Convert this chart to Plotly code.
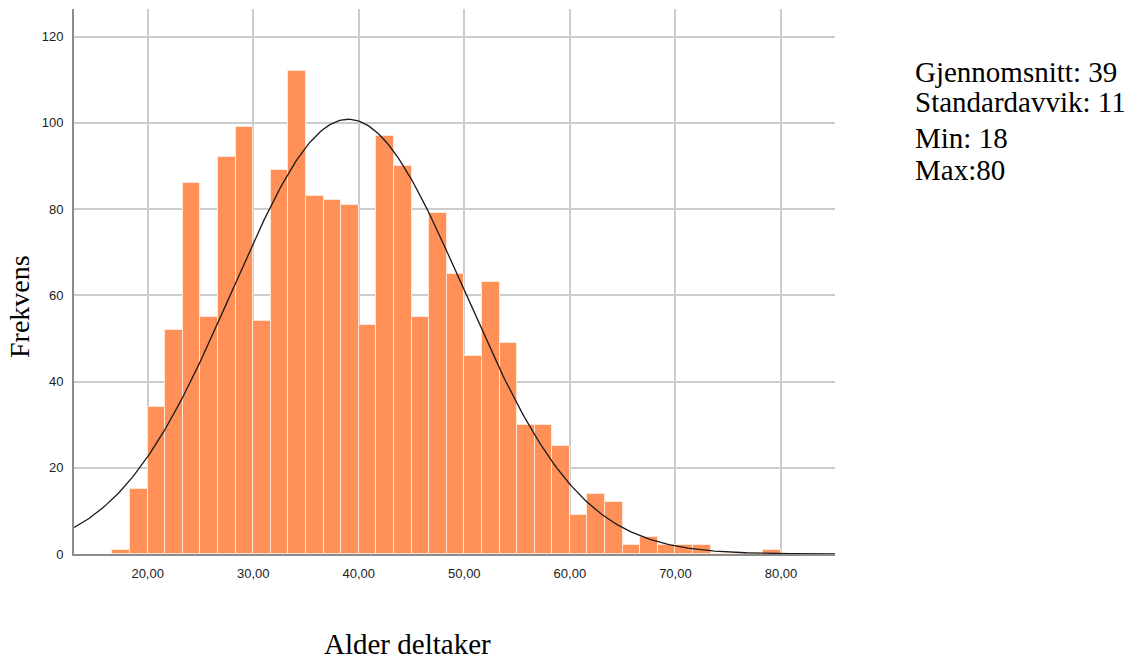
import numpy as np
import plotly.graph_objects as go

# ---- data ----
bin_width = 5 / 3
first_bin_left = 50 / 3  # 16,67
counts = [1, 15, 34, 52, 86, 55, 92, 99, 54, 89, 112, 83, 82, 81, 53, 97, 90,
          55, 79, 65, 46, 63, 49, 30, 30, 25, 9, 14, 12, 2, 4, 2, 2, 2,
          0, 0, 0, 1]
mean_age = 39.0
sd_age = 10.98
n_total = sum(counts)

x_tickvals = [20, 30, 40, 50, 60, 70, 80]
x_ticktext = ["20,00", "30,00", "40,00", "50,00", "60,00", "70,00", "80,00"]
y_tickvals = [0, 20, 40, 60, 80, 100, 120]

stats_lines = ["Gjennomsnitt: 39", "Standardavvik: 11", "Min: 18", "Max:80"]

# ---- derived ----
centers = [first_bin_left + bin_width * (i + 0.5) for i in range(len(counts))]
xr = [13.02, 85.12]
xc = np.linspace(xr[0], xr[1], 400)
yc = n_total * bin_width / (sd_age * np.sqrt(2 * np.pi)) * np.exp(-0.5 * ((xc - mean_age) / sd_age) ** 2)

W, H = 1127, 660
L, R, T, B = 74, 835, 9, 554  # plot area in pixels


def px(xp):
    return (xp - L) / (R - L)


def py(yp):
    return (B - yp) / (B - T)


fig = go.Figure()
fig.add_trace(go.Bar(
    x=centers, y=counts, width=bin_width,
    marker=dict(color="#FF9158", line=dict(color="#FFE6D6", width=1)),
    hoverinfo="x+y", showlegend=False,
))
fig.add_trace(go.Scatter(
    x=xc, y=yc, mode="lines", line=dict(color="#1a1a1a", width=1.3),
    hoverinfo="skip", showlegend=False,
))

serif = "Liberation Serif, Times New Roman, serif"
sans = "Liberation Sans, Arial, sans-serif"

annotations = [
    dict(text="Alder deltaker", x=px(407), y=py(644), xref="paper", yref="paper",
         showarrow=False, xanchor="center", yanchor="middle",
         font=dict(family=serif, size=29, color="black")),
    dict(text="Frekvens", x=px(20), y=py(307), xref="paper", yref="paper",
         showarrow=False, xanchor="center", yanchor="middle", textangle=-90,
         font=dict(family=serif, size=28, color="black")),
]
stat_centers = [72, 102, 138, 170]
for line, yc_px in zip(stats_lines, stat_centers):
    annotations.append(dict(text=line, x=px(913), y=py(yc_px), xref="paper", yref="paper",
                            showarrow=False, xanchor="left", yanchor="middle",
                            font=dict(family=serif, size=29, color="black")))

fig.update_layout(
    width=W, height=H,
    margin=dict(l=L, r=W - R, t=T, b=H - B, pad=0),
    paper_bgcolor="white", plot_bgcolor="white",
    bargap=0,
    annotations=annotations,
    xaxis=dict(range=xr, tickvals=x_tickvals, ticktext=x_ticktext,
               showgrid=True, gridcolor="#cccccc", gridwidth=1.5,
               showline=True, linecolor="#8c8c8c", linewidth=2,
               ticks="outside", ticklen=6, tickcolor="rgba(0,0,0,0)",
               tickfont=dict(family=sans, size=13, color="#222"),
               zeroline=False, fixedrange=True),
    yaxis=dict(range=[0, 126.4], tickvals=y_tickvals,
               showgrid=True, gridcolor="#cccccc", gridwidth=1.5,
               showline=True, linecolor="#8c8c8c", linewidth=2,
               ticks="outside", ticklen=6, tickcolor="rgba(0,0,0,0)",
               tickfont=dict(family=sans, size=13, color="#222"),
               zeroline=False, fixedrange=True),
)

fig.write_html("out.html", config={"displayModeBar": False})
